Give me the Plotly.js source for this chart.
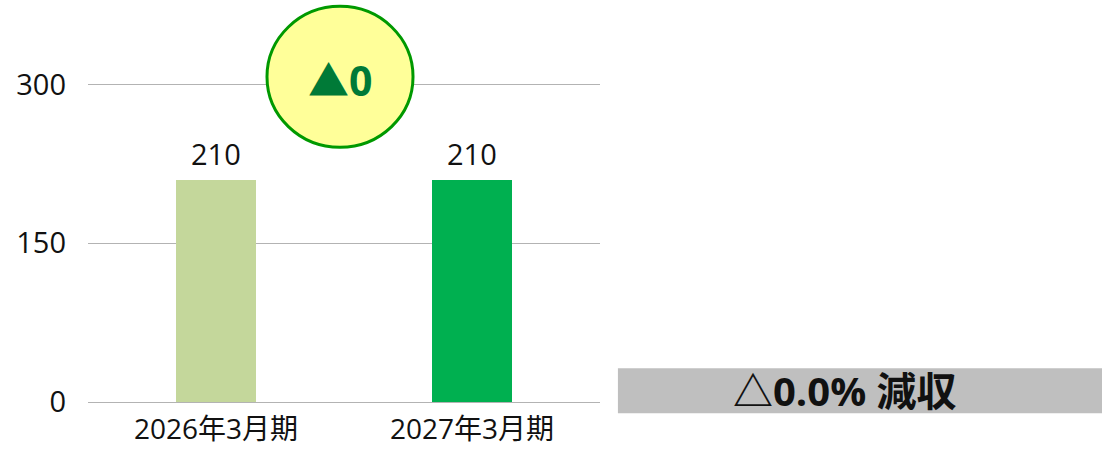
<!DOCTYPE html>
<html><head><meta charset="utf-8">
<script src="https://cdn.plot.ly/plotly-3.0.1.min.js"></script>
<style>html,body{margin:0;padding:0;background:#fff}</style>
</head><body>
<div id="chart" style="width:1102px;height:449px"></div>
<script>
const categories = ['2026年3月期', '2027年3月期'];
const values = [210, 210];
const barColors = ['#C4D79B', '#00B050'];
const yTicks = [0, 150, 300];
const diffLabel = '▲0';
const rateLabel = '△0.0% 減収';

const FONT = '"Open Sans", "Noto Sans CJK JP", sans-serif';

const trace = {
  type: 'bar',
  x: categories,
  y: values,
  marker: {color: barColors},
  width: 0.3125,
  hoverinfo: 'none'
};

const annotations = categories.map((c, i) => ({
  x: c, y: values[i], xref: 'x', yref: 'y',
  text: String(values[i]), showarrow: false,
  yanchor: 'bottom', yshift: 5,
  font: {family: FONT, size: 29, color: '#111'}
}));

annotations.push({
  x: 0.4922, y: 0.895, xref: 'paper', yref: 'paper',
  text: '<b>' + diffLabel + '</b>', showarrow: false,
  xanchor: 'center', yanchor: 'middle',
  font: {family: FONT, size: 41, color: '#007A37'}
});
annotations.push({
  x: 1.478, y: 0.033, xref: 'paper', yref: 'paper',
  text: '<b>' + rateLabel + '</b>', showarrow: false,
  xanchor: 'center', yanchor: 'middle',
  font: {family: FONT, size: 40, color: '#111'}
});

const layout = {
  width: 1102, height: 449,
  margin: {l: 88, r: 502, t: 42, b: 47, pad: 0},
  paper_bgcolor: '#fff', plot_bgcolor: '#fff',
  showlegend: false,
  xaxis: {
    type: 'category', range: [-0.5, 1.5],
    showgrid: false, zeroline: false, showline: false,
    ticks: '', tickfont: {family: FONT, size: 28, color: '#111'},
    ticklabelstandoff: 8
  },
  yaxis: {
    range: [0, 340], tickvals: yTicks, ticktext: yTicks.map(String),
    showgrid: true, gridcolor: '#B3B3B3', gridwidth: 1,
    zeroline: true, zerolinecolor: '#B3B3B3', zerolinewidth: 1,
    showline: false, ticks: '',
    tickfont: {family: FONT, size: 29, color: '#111'},
    ticklabelstandoff: 21
  },
  bargap: 0,
  shapes: [
    {type: 'circle', xref: 'paper', yref: 'paper',
     x0: 0.3496, x1: 0.6348, y0: 0.7075, y1: 1.099,
     fillcolor: '#FFFF99', line: {color: '#009900', width: 3}, layer: 'above'},
    {type: 'rect', xref: 'paper', yref: 'paper',
     x0: 1.035, x1: 1.99, y0: -0.031, y1: 0.0936,
     fillcolor: '#BFBFBF', line: {width: 0}, layer: 'above'}
  ],
  annotations: annotations
};

Plotly.newPlot('chart', [trace], layout, {displayModeBar: false, staticPlot: true});
</script>
</body></html>
